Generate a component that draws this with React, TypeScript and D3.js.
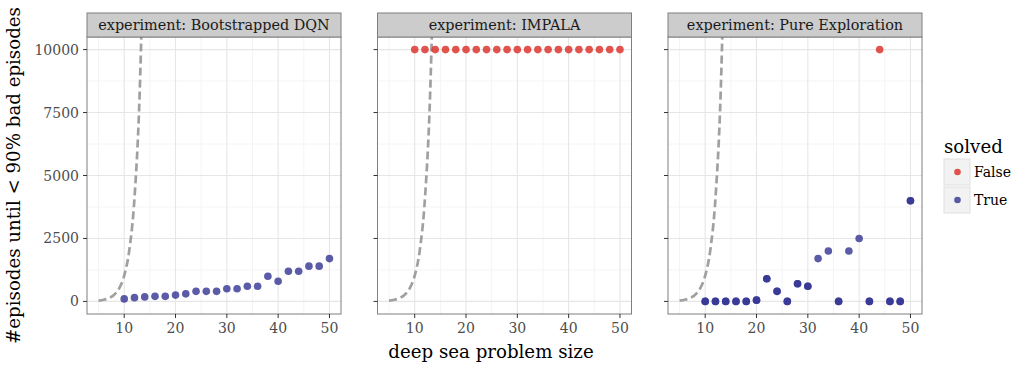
import React from "react";
import * as d3 from "d3";

// ---------- data ----------
const sizes = [10, 12, 14, 16, 18, 20, 22, 24, 26, 28, 30, 32, 34, 36, 38, 40, 42, 44, 46, 48, 50];
const experiments = ["Bootstrapped DQN", "IMPALA", "Pure Exploration"];

const dqnEpisodes = [100, 150, 180, 200, 200, 250, 300, 400, 400, 400, 500, 500, 600, 600, 1000, 800, 1200, 1200, 1400, 1400, 1700];
const dqnSolved = [true, true, true, true, true, true, true, true, true, true, true, true, true, true, true, true, true, true, true, true, true];
const dqnRuns = [1, 1, 1, 1, 1, 1, 1, 1, 1, 1, 1, 1, 1, 1, 1, 1, 1, 1, 1, 1, 1];

const impalaEpisodes = [10000, 10000, 10000, 10000, 10000, 10000, 10000, 10000, 10000, 10000, 10000, 10000, 10000, 10000, 10000, 10000, 10000, 10000, 10000, 10000, 10000];
const impalaSolved = [false, false, false, false, false, false, false, false, false, false, false, false, false, false, false, false, false, false, false, false, false];
const impalaRuns = [1, 1, 1, 1, 1, 1, 1, 1, 1, 1, 1, 1, 1, 1, 1, 1, 1, 1, 1, 1, 1];

const pureEpisodes = [0, 0, 0, 0, 0, 50, 900, 400, 0, 700, 600, 1700, 2000, 0, 2000, 2500, 0, 10000, 0, 0, 4000];
const pureSolved = [true, true, true, true, true, true, true, true, true, true, true, true, true, true, true, true, true, false, true, true, true];
const pureRuns = [2, 2, 2, 2, 2, 2, 2, 2, 2, 2, 2, 1, 1, 2, 1, 1, 2, 1, 2, 2, 2];

// reference curve (dashed)
const refSizes = [5, 6, 7, 8, 9, 10, 11, 12, 13, 14];
const refEpisodes = [32, 64, 128, 256, 512, 1024, 2048, 4096, 8192, 16384];

const xTicks = [10, 20, 30, 40, 50];
const xMinor = [5, 15, 25, 35, 45];
const yTicks = [0, 2500, 5000, 7500, 10000];
const yTickLabels = ["0", "2500", "5000", "7500", "10000"];
const yMinor = [1250, 3750, 6250, 8750];

const legendLabels = ["False", "True"];

// ---------- style ----------
const FONT = "'DejaVu Serif', serif";
const RED = "#d92a22";
const BLUE = "#323292";
const W = 1031;
const H = 368;
const panelW = 254;
const panelGap = 36.5;
const panelLeft0 = 87;
const stripTop = 13;
const plotTop = 37;
const plotBottom = 314;

const panelData = [
  { ep: dqnEpisodes, solved: dqnSolved, runs: dqnRuns },
  { ep: impalaEpisodes, solved: impalaSolved, runs: impalaRuns },
  { ep: pureEpisodes, solved: pureSolved, runs: pureRuns },
];

export default function App() {
  const y = d3.scaleLinear().domain([-500, 10500]).range([plotBottom, plotTop]);
  return (
    <svg width={W} height={H} style={{ position: "absolute", left: 0, top: 0, background: "#fff" }} fontFamily={FONT}>
      <defs>
        {experiments.map((_, i) => {
          const left = panelLeft0 + i * (panelW + panelGap);
          return (
            <clipPath id={`clip${i}`} key={i}>
              <rect x={left} y={plotTop} width={panelW} height={plotBottom - plotTop} />
            </clipPath>
          );
        })}
      </defs>
      {experiments.map((name, i) => {
        const left = panelLeft0 + i * (panelW + panelGap);
        const x = d3.scaleLinear().domain([2.75, 52.25]).range([left, left + panelW]);
        const line = d3
          .line<number>()
          .x((_, k) => x(refSizes[k]))
          .y((v) => y(v))
          .curve(d3.curveMonotoneX);
        const pd = panelData[i];
        const pts: { x: number; v: number; s: boolean }[] = [];
        sizes.forEach((s, k) => {
          for (let r = 0; r < pd.runs[k]; r++) pts.push({ x: s, v: pd.ep[k], s: pd.solved[k] });
        });
        return (
          <g key={name}>
            <rect x={left} y={plotTop} width={panelW} height={plotBottom - plotTop} fill="#fff" />
            {xMinor.map((t) => (
              <line key={"xm" + t} x1={x(t)} x2={x(t)} y1={plotTop} y2={plotBottom} stroke="#f4f4f4" strokeWidth={1} />
            ))}
            {yMinor.map((t) => (
              <line key={"ym" + t} x1={left} x2={left + panelW} y1={y(t)} y2={y(t)} stroke="#f4f4f4" strokeWidth={1} />
            ))}
            {xTicks.map((t) => (
              <line key={"xg" + t} x1={x(t)} x2={x(t)} y1={plotTop} y2={plotBottom} stroke="#e6e6e6" strokeWidth={1.1} />
            ))}
            {yTicks.map((t) => (
              <line key={"yg" + t} x1={left} x2={left + panelW} y1={y(t)} y2={y(t)} stroke="#e6e6e6" strokeWidth={1.1} />
            ))}
            <g clipPath={`url(#clip${i})`}>
              <path d={line(refEpisodes) || ""} fill="none" stroke="#a0a0a0" strokeWidth={2.7} strokeDasharray="8,4" />
            </g>
            {pts.map((p, k) => (
              <circle key={k} cx={x(p.x)} cy={y(p.v)} r={3.8} fill={p.s ? BLUE : RED} fillOpacity={0.8} />
            ))}
            <rect x={left} y={plotTop} width={panelW} height={plotBottom - plotTop} fill="none" stroke="#7f7f7f" strokeWidth={1} />
            <rect x={left} y={stripTop} width={panelW} height={plotTop - stripTop} fill="#cccccc" stroke="#7f7f7f" strokeWidth={1} />
            <text x={left + panelW / 2} y={(stripTop + plotTop) / 2} dy="0.36em" textAnchor="middle" fontSize={14.4} fill="#1a1a1a">
              {"experiment: " + name}
            </text>
            {xTicks.map((t) => (
              <g key={"xt" + t}>
                <line x1={x(t)} x2={x(t)} y1={plotBottom} y2={plotBottom + 4} stroke="#333" strokeWidth={1} />
                <text x={x(t)} y={plotBottom + 18.5} textAnchor="middle" fontSize={14} fill="#4d4d4d">
                  {t}
                </text>
              </g>
            ))}
            {yTicks.map((t, k) => (
              <g key={"yt" + t}>
                <line x1={left - 4} x2={left} y1={y(t)} y2={y(t)} stroke="#333" strokeWidth={1} />
                {i === 0 && (
                  <text x={left - 8} y={y(t)} dy="0.36em" textAnchor="end" fontSize={14} fill="#4d4d4d">
                    {yTickLabels[k]}
                  </text>
                )}
              </g>
            ))}
          </g>
        );
      })}
      <text x={491} y={358} textAnchor="middle" fontSize={18.2} fill="#000">
        deep sea problem size
      </text>
      <text transform={`translate(20,${(plotTop + plotBottom) / 2}) rotate(-90)`} textAnchor="middle" fontSize={18.2} fill="#000">
        #episodes until &lt; 90% bad episodes
      </text>
      <text x={944} y={153} fontSize={18.2} fill="#000">
        solved
      </text>
      {legendLabels.map((lab, k) => (
        <g key={lab}>
          <rect x={944} y={159 + k * 28} width={26} height={26} fill="#f2f2f2" stroke="#e0e0e0" strokeWidth={1} />
          <circle cx={957.5} cy={172 + k * 28} r={3.3} fill={k === 0 ? RED : BLUE} fillOpacity={0.8} />
          <text x={974} y={172 + k * 28} dy="0.36em" fontSize={14} fill="#000">
            {lab}
          </text>
        </g>
      ))}
    </svg>
  );
}
